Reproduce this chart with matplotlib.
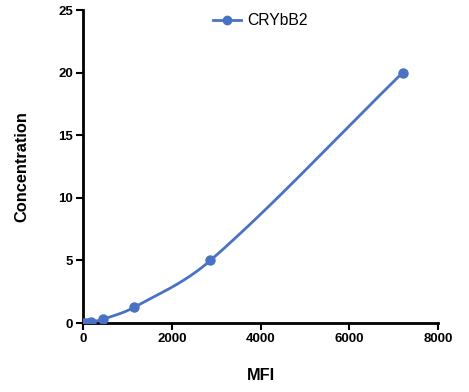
import numpy as np
import matplotlib
matplotlib.use("Agg")
import matplotlib.pyplot as plt

mfi = [30, 85, 190, 460, 1150, 2870, 7200]
conc = [0, 0.02, 0.078, 0.312, 1.25, 5, 20]
series_name = "CRYbB2"
x_ticks = [0, 2000, 4000, 6000, 8000]
y_ticks = [0, 5, 10, 15, 20, 25]

def hermite_curve(x, y, xn):
    x = np.asarray(x, float); y = np.asarray(y, float)
    n = len(x); h = np.diff(x)
    m = np.zeros(n)
    m[0] = (y[1] - y[0]) / h[0]
    m[-1] = (y[-1] - y[-2]) / h[-1]
    for k in range(1, n - 1):
        m[k] = (y[k + 1] - y[k - 1]) / (x[k + 1] - x[k - 1])
    idx = np.clip(np.searchsorted(x, xn) - 1, 0, n - 2)
    t = (xn - x[idx]) / h[idx]
    h00 = 2 * t**3 - 3 * t**2 + 1; h10 = t**3 - 2 * t**2 + t
    h01 = -2 * t**3 + 3 * t**2; h11 = t**3 - t**2
    return h00 * y[idx] + h10 * h[idx] * m[idx] + h01 * y[idx + 1] + h11 * h[idx] * m[idx + 1]

plt.rcParams['font.family'] = ['Liberation Sans', 'DejaVu Sans']
fig = plt.figure(figsize=(4.69, 3.92), dpi=100)
ax = fig.add_axes([0.177, 0.176, 0.757, 0.798])
color = '#4a72c4'
xs = np.linspace(mfi[0], mfi[-1], 600)
ax.plot(xs, hermite_curve(mfi, conc, xs), color=color, lw=2, zorder=2)
ax.plot(mfi, conc, 'o', color=color, ms=6.5, zorder=3)
ax.plot([], [], '-o', color=color, lw=2, ms=6, label=series_name)

ax.set_xlim(0, 8000)
ax.set_ylim(0, 25)
ax.set_xticks(x_ticks)
ax.set_yticks(y_ticks)
for s in ['top', 'right']:
    ax.spines[s].set_visible(False)
for s in ['left', 'bottom']:
    ax.spines[s].set_linewidth(2)
ax.tick_params(width=1.5, length=5, labelsize=9.5, pad=2)
for lab in ax.get_xticklabels() + ax.get_yticklabels():
    lab.set_fontweight('bold')
ax.set_xlabel('MFI', fontsize=11.8, fontweight='bold', labelpad=17)
ax.set_ylabel('Concentration', fontsize=11.8, fontweight='bold', labelpad=21)
leg = ax.legend(loc='upper center', bbox_to_anchor=(0.5, 1.035), frameon=False, fontsize=11.3, handlelength=1.8, handletextpad=0.4)
fig.savefig('out.png', dpi=100)
